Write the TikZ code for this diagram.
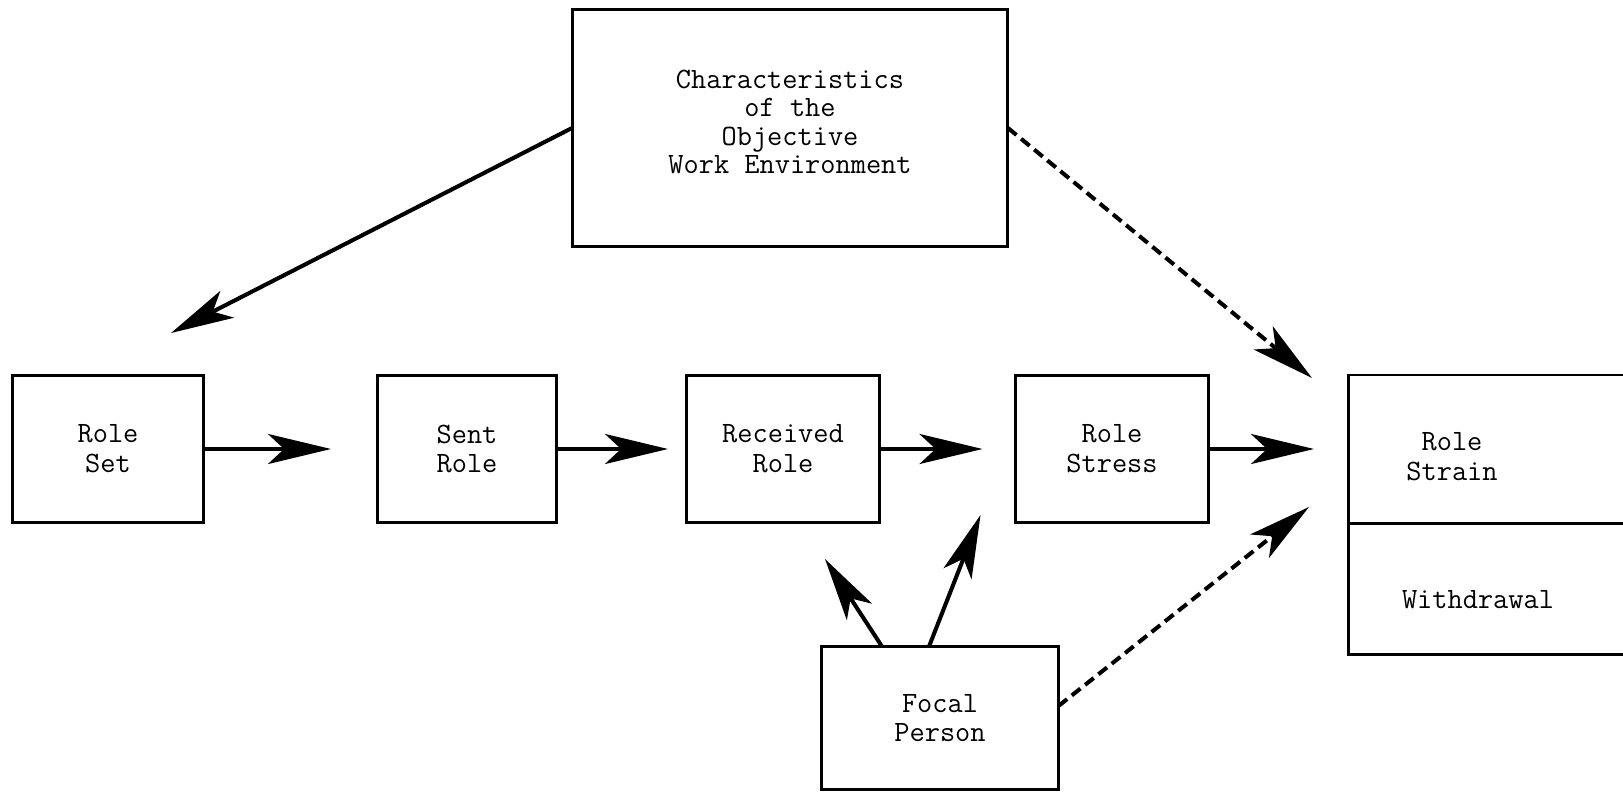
\documentclass[tikz,border=0pt]{standalone}
\usepackage{tikz}
\usetikzlibrary{arrows.meta, calc}

\begin{document}
\begin{tikzpicture}[
    x=0.02cm, y=-0.02cm,
    %% Plain boxed block
    box/.style  = {rectangle, draw, line width=1.7pt, outer sep=0pt,
                   inner sep=0pt, align=center,
                   font=\fontsize{16.8}{17}\selectfont\ttfamily},
    %% Free text inside a drawn part
    txt/.style  = {inner sep=0pt, align=center,
                   font=\fontsize{16.8}{17}\selectfont\ttfamily},
    arr/.style  = {-{Stealth[length=1.26cm, width=0.6cm, inset=0.32cm]},
                   line width=2.3pt},
    darr/.style = {arr, dash pattern=on 0.22cm off 0.12cm},
]
\clip (0,0) rectangle (1623,794);

%% ---- Top: work environment ----
\node[box, minimum width=8.72cm, minimum height=4.74cm] (env) at (790,128) {};
\node[txt, font=\fontsize{16.8}{16.2}\selectfont\ttfamily]
     (envlbl) at (790,122) {Characteristics\\of the\\Objective\\Work Environment};

%% ---- Middle row: role episode ----
\node[box, minimum width=3.82cm, minimum height=2.96cm] (rset)   at (108,449)  {Role\\Set};
\node[box, minimum width=3.60cm, minimum height=2.96cm] (sent)   at (467,449)  {Sent\\Role};
\node[box, minimum width=3.88cm, minimum height=2.96cm] (recv)   at (783,449)  {Received\\Role};
\node[box, minimum width=3.86cm, minimum height=2.96cm] (stress) at (1112,449) {Role\\Stress};

%% ---- Right: strain box in two parts ----
\node[box, anchor=north west, minimum width=6.04cm, minimum height=2.98cm] (strain)   at (1348,375) {};
\node[box, anchor=north west, minimum width=6.04cm, minimum height=2.62cm] (withdraw) at (strain.south west) {};
\node[txt] (strainlbl)   at (1452,457) {Role\\Strain};
\node[txt] (withdrawlbl) at (1478,600) {Withdrawal};

%% ---- Bottom: focal person ----
\node[box, minimum width=4.74cm, minimum height=2.86cm] (focal) at (940,718) {Focal\\Person};

%% arrow tips that stop short of a box
\coordinate (rsettip)   at ($(rset.north)+(63,-42)$);
\coordinate (straintip) at ($(strain.north west)+(-36,3)$);
\coordinate (recvtip)   at ($(recv.south)+(42,36)$);
\coordinate (stresstip) at ($(stress.south west)+(-35,-8)$);
\coordinate (wdtip)     at ($(strain.south west)+(-39,-17)$);

%% row arrows
\draw[arr, shorten >=0.92cm] (rset)   -- (sent);
\draw[arr, shorten >=0.36cm] (sent)   -- (recv);
\draw[arr, shorten >=0.66cm] (recv)   -- (stress);
\draw[arr, shorten >=0.68cm] (stress) -- (strain.west |- stress);

%% environment arrows
\draw[arr]  (env.west) -- (rsettip);
\draw[darr] (env.east) -- (straintip);

%% focal person arrows
\draw[arr]  ($(focal.north)+(-58,0)$) -- (recvtip);
\draw[arr]  ($(focal.north)+(-11,0)$) -- (stresstip);
\draw[darr] ($(focal.east)+(0,-12)$)  -- (wdtip);

\end{tikzpicture}
\end{document}
